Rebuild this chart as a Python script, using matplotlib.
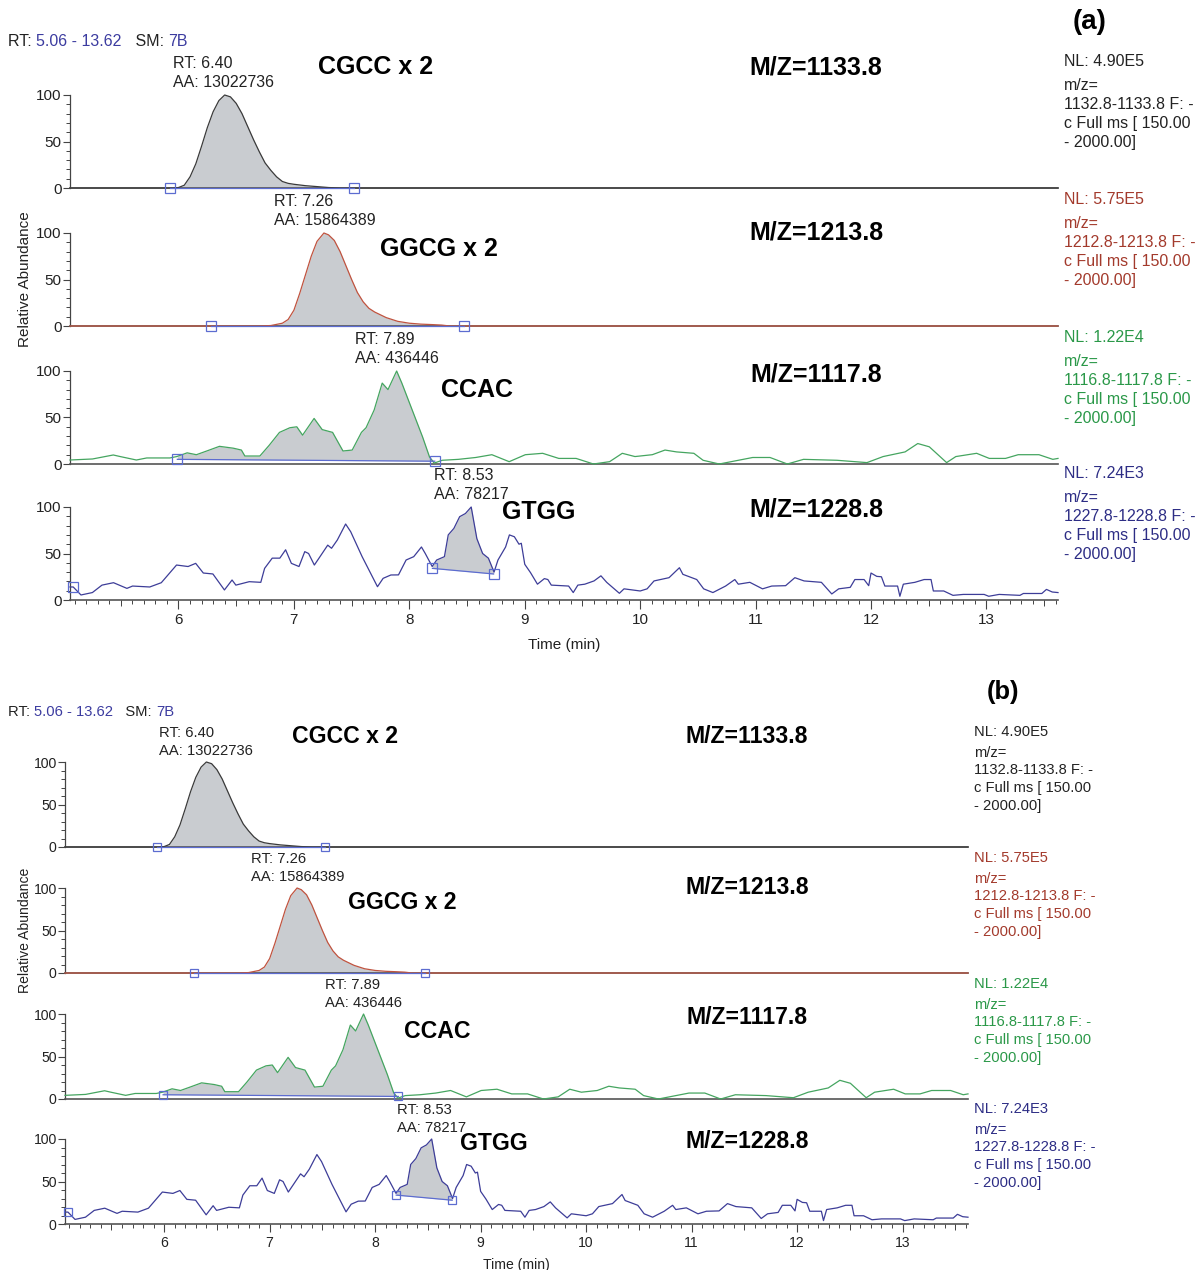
import numpy as np
import matplotlib.pyplot as plt
from matplotlib.ticker import MultipleLocator, NullLocator

plt.rcParams['font.family'] = ['Liberation Sans', 'DejaVu Sans']

W, H = 1195, 1270
T0, T1 = 5.06, 13.62

# ---- chromatogram traces (time in min, relative abundance in %) ----
t_cgcc = [5.06, 5.95, 6.00, 6.05, 6.10, 6.15, 6.20, 6.25, 6.30, 6.35, 6.40, 6.45,
          6.50, 6.55, 6.60, 6.65, 6.70, 6.75, 6.80, 6.85, 6.90, 6.95, 7.00, 7.10,
          7.20, 7.30, 7.40, 13.62]
a_cgcc = [0, 0, 0.5, 3, 12, 26, 45, 65, 82, 94, 100, 98,
          91, 80, 66, 52, 39, 27, 19, 12, 7, 5, 4, 2.5,
          1.5, 0.5, 0, 0]

t_ggcg = [5.06, 6.70, 6.80, 6.90, 6.95, 7.00, 7.05, 7.10, 7.15, 7.20, 7.26, 7.30,
          7.35, 7.40, 7.45, 7.50, 7.55, 7.60, 7.65, 7.70, 7.75, 7.80, 7.90, 8.00,
          8.10, 8.20, 8.28, 8.35, 13.62]
a_ggcg = [0, 0, 0.5, 3, 7, 17, 35, 55, 75, 91, 100, 98,
          92, 80, 65, 50, 36, 26, 19, 15, 12, 9, 5, 3,
          2, 1.5, 1, 0, 0]

t_ccac = [5.06, 5.255, 5.435, 5.495, 5.635, 5.725, 5.925, 5.985, 6.075, 6.155, 6.245,
          6.355, 6.475, 6.545, 6.575, 6.705, 6.785, 6.875, 6.965, 7.025, 7.075, 7.175,
          7.245, 7.335, 7.425, 7.505, 7.585, 7.625, 7.695, 7.765, 7.815, 7.89, 7.935,
          8.025, 8.115, 8.175, 8.215, 8.285, 8.425, 8.575, 8.715, 8.865, 9.005, 9.155,
          9.295, 9.445, 9.595, 9.735, 9.845, 9.955, 10.105, 10.215, 10.315, 10.465,
          10.545, 10.685, 10.975, 11.125, 11.275, 11.415, 11.705, 11.965, 12.105,
          12.295, 12.405, 12.505, 12.655, 12.735, 12.915, 13.025, 13.165, 13.275,
          13.455, 13.575, 13.62]
a_ccac = [4.3, 5.4, 9.7, 8, 4.3, 6.5, 6.5, 8, 12, 10, 14,
          19, 17, 15, 8.6, 8.6, 20, 34, 39, 40, 31, 49,
          37, 34, 14, 15, 34, 39, 58, 87, 80, 100, 87,
          58, 29, 7.5, 1, 4, 5, 7, 10, 2.5, 10, 11.5,
          6, 6, 0, 2.5, 11.5, 8, 10, 15, 13, 11.5,
          4, 0, 7, 7, 0, 5, 4, 1.5, 8,
          13, 22, 18.5, 1.5, 8, 11.5, 6, 6, 10,
          10, 5, 6]

t_gtgg = [5.06, 5.088, 5.155, 5.254, 5.337, 5.437, 5.553, 5.602, 5.751, 5.851, 5.983,
          6.083, 6.149, 6.215, 6.298, 6.398, 6.464, 6.497, 6.613, 6.713, 6.746, 6.812,
          6.878, 6.928, 6.978, 7.044, 7.094, 7.127, 7.177, 7.226, 7.293, 7.326, 7.376,
          7.448, 7.492, 7.591, 7.724, 7.773, 7.840, 7.906, 7.972, 8.038, 8.105, 8.138,
          8.198, 8.237, 8.304, 8.337, 8.386, 8.436, 8.486, 8.536, 8.585, 8.635, 8.685,
          8.734, 8.768, 8.834, 8.867, 8.91, 8.95, 8.97, 9.00, 9.05, 9.11, 9.17, 9.20,
          9.23, 9.38, 9.42, 9.46, 9.52, 9.60, 9.66, 9.71, 9.82, 9.86, 10.0, 10.06,
          10.12, 10.25, 10.34, 10.37, 10.49, 10.55, 10.63, 10.74, 10.82, 10.85, 10.95,
          11.06, 11.14, 11.26, 11.34, 11.42, 11.57, 11.66, 11.72, 11.82, 11.86, 11.94,
          11.98, 12.00, 12.05, 12.09, 12.12, 12.23, 12.25, 12.28, 12.38, 12.46, 12.52,
          12.54, 12.63, 12.71, 12.80, 12.98, 13.02, 13.11, 13.29, 13.32, 13.48, 13.52,
          13.57, 13.62]
a_gtgg = [14, 14, 5.4, 8, 16, 18.6, 12.5, 15, 14, 18.6, 37.6,
          36, 39.4, 29, 28, 10.8, 21.5, 16, 19.7, 19, 34, 45,
          45, 54, 39.4, 36, 52, 50, 37.6, 46.6, 59, 55.6, 64.5,
          81.7, 73.4, 46.6, 14.3, 23.3, 26.9, 27, 43, 46.6, 57, 50,
          36, 43, 46.6, 70, 77, 89.6, 93, 100, 66, 50, 45,
          30, 43, 57, 70, 68, 60, 61, 38.4, 29.4, 17, 23, 22,
          16, 15, 8, 16, 17, 20.5, 26, 19, 7.2, 12, 9.7, 12,
          20.5, 24, 34.7, 27.6, 22, 12, 8, 15, 22, 17, 19,
          12, 15, 15.4, 24, 20.5, 19, 6.5, 12, 13.6, 22, 22,
          15.4, 29, 25.4, 25, 15, 15, 4, 17, 19, 22, 22,
          9.7, 9.7, 5, 6, 6, 4, 6, 5, 7, 7, 11.4,
          8.6, 8]

times = [t_cgcc, t_ggcg, t_ccac, t_gtgg]
abund = [a_cgcc, a_ggcg, a_ccac, a_gtgg]

names = ['CGCC x 2', 'GGCG x 2', 'CCAC', 'GTGG']
mz_labels = ['M/Z=1133.8', 'M/Z=1213.8', 'M/Z=1117.8', 'M/Z=1228.8']
nl_values = ['4.90E5', '5.75E5', '1.22E4', '7.24E3']
mz_ranges = ['1132.8-1133.8', '1212.8-1213.8', '1116.8-1117.8', '1227.8-1228.8']
rt_values = ['6.40', '7.26', '7.89', '8.53']
aa_values = ['13022736', '15864389', '436446', '78217']
# integration limits: (time, level)
peak_start = [(5.93, 0), (6.28, 0), (5.99, 5), (8.20, 34)]
peak_end = [(7.52, 0), (8.47, 0), (8.22, 3), (8.73, 28)]
extra_mark = [None, None, None, (5.09, 14)]

line_colors = ['#3a3a3a', '#c0533f', '#45a560', '#3d3d98']
text_colors = ['#222222', '#a33a2c', '#2a9848', '#2d2d85']
FILL = '#c9ccd0'
BASE = '#5c6cd0'
BLUE = '#3c3ca0'

# label placement in data coordinates
rt_x = [5.955, 6.825, 7.525, 8.21]
name_xy = [(7.71, 130), (8.26, 83), (8.585, 80), (9.125, 95)]
mz_y = [130, 100, 96, 97]

fig = plt.figure(figsize=(W / 100, H / 100), dpi=100)


def ftext(x, y, s, **kw):
    return fig.text(x / W, 1 - y / H, s, **kw)


def draw_panel(left, right, zeros, h, s, tag, tag_xy, head_y):
    small = 11.5 * s
    big = 18 * s
    for i in range(4):
        ax = fig.add_axes([left / W, 1 - zeros[i] / H, (right - left) / W, h / H])
        ax.patch.set_alpha(0)
        t = np.array(times[i])
        a = np.array(abund[i])
        (ts, ys), (te, ye) = peak_start[i], peak_end[i]
        m = (t > ts) & (t < te)
        ft = np.concatenate([[ts], t[m], [te]])
        fa = np.interp(ft, t, a)
        fb = np.interp(ft, [ts, te], [ys, ye])
        ax.fill_between(ft, fb, np.maximum(fa, fb), color=FILL, lw=0, zorder=2)
        ax.plot(t, a, color=line_colors[i], lw=0.9, zorder=3, clip_on=False)
        ax.plot([ts, te], [ys, ye], color=BASE, lw=0.9, zorder=4, clip_on=False)
        ax.plot([ts, te], [ys, ye], 's', ms=6.5 * s, mfc='none', mec=BASE, mew=0.9,
                zorder=5, clip_on=False)
        if extra_mark[i] is not None:
            ax.plot([extra_mark[i][0]], [extra_mark[i][1]], 's', ms=6.5 * s, mfc='none',
                    mec=BASE, mew=0.9, zorder=5, clip_on=False)

        ax.set_xlim(T0, T1)
        ax.set_ylim(0, 100)
        for sp in ['top', 'right']:
            ax.spines[sp].set_visible(False)
        ax.spines['left'].set_bounds(0, 100)
        ax.spines['left'].set_color('#444444')
        ax.spines['left'].set_linewidth(0.9)
        ax.spines['bottom'].set_color('#555555')
        ax.spines['bottom'].set_linewidth(1.2)
        ax.set_yticks([0, 50, 100])
        ax.yaxis.set_minor_locator(MultipleLocator(10))
        ax.tick_params(axis='y', which='major', length=5, width=0.8, color='#444444',
                       labelsize=11 * s, labelcolor='#222222', pad=1)
        ax.tick_params(axis='y', which='minor', length=2.8, width=0.7, color='#444444')
        if i < 3:
            ax.tick_params(axis='x', which='both', bottom=False, labelbottom=False)
        else:
            ax.xaxis.set_major_locator(MultipleLocator(1))
            ax.xaxis.set_minor_locator(MultipleLocator(0.1))
            ax.tick_params(axis='x', which='major', length=6.5 * s, width=0.8,
                           color='#444444', labelsize=11 * s, labelcolor='#222222', pad=3)
            ax.tick_params(axis='x', which='minor', length=3 * s, width=0.7, color='#444444')
            sec = ax.secondary_xaxis('bottom')
            sec.set_xticks(np.arange(5.5, 13.6, 1.0))
            sec.xaxis.set_minor_locator(NullLocator())
            sec.tick_params(length=4.5 * s, width=0.7, color='#444444', labelbottom=False)
            sec.spines['bottom'].set_visible(False)

        # peak annotation
        ax.text(rt_x[i], 134, 'RT: ' + rt_values[i], fontsize=small, color='#222222',
                ha='left', va='center')
        ax.text(rt_x[i], 113, 'AA: ' + aa_values[i], fontsize=small, color='#222222',
                ha='left', va='center')
        ax.text(name_xy[i][0], name_xy[i][1], names[i], fontsize=big, fontweight='bold',
                ha='center', va='center', color='black')
        ax.text(11.525, mz_y[i], mz_labels[i], fontsize=big, fontweight='bold',
                ha='center', va='center', color='black')

        # NL block on the right
        top = zeros[i] - h
        xr = right + 6
        y_nl = top - 33 * s
        ftext(xr, y_nl, 'NL: ' + nl_values[i], fontsize=small, color=text_colors[i],
              va='center', ha='left')
        block = ['m/z=', mz_ranges[i] + ' F: -', 'c Full ms [ 150.00', '- 2000.00]']
        for k, line in enumerate(block):
            ftext(xr, y_nl + (23 + 19.2 * k) * s, line, fontsize=small,
                  color=text_colors[i], va='center', ha='left')

    # axis titles
    ftext(25, zeros[1] - h / 2, 'Relative Abundance', fontsize=11 * s, rotation=90,
          ha='center', va='center', color='#222222')
    xt = left + (9.34 - T0) / (T1 - T0) * (right - left)
    ftext(xt, zeros[3] + 45 * s, 'Time (min)', fontsize=11 * s, ha='center',
          va='center', color='#222222')

    # header "RT: 5.06 - 13.62  SM: 7B"
    renderer = fig.canvas.get_renderer()
    x = 8
    for piece, col in [('RT: ', '#222222'), ('5.06 - 13.62', BLUE), ('   SM: ', '#222222'),
                       ('7B', BLUE)]:
        tx = ftext(x, head_y, piece, fontsize=small, color=col, ha='left', va='center')
        x += tx.get_window_extent(renderer).width

    ftext(tag_xy[0], tag_xy[1], tag, fontsize=20 * s, fontweight='bold', ha='center',
          va='center', color='black')


draw_panel(70, 1058, [188, 326, 464, 600], 93, 1.0, '(a)', (1090, 22), 42)
draw_panel(65, 968, [847, 973, 1099, 1224], 85, 0.92, '(b)', (1003, 692), 712)

fig.savefig('out.png', dpi=100)
